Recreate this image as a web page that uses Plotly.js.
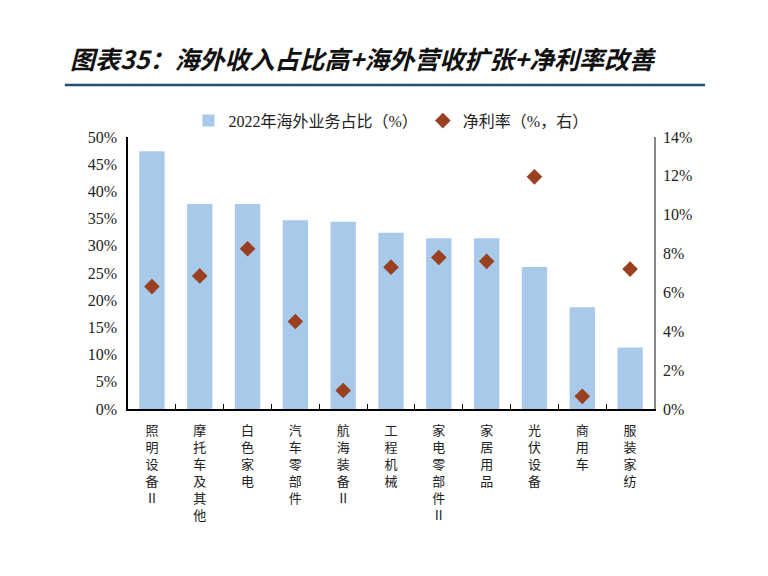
<!DOCTYPE html>
<html>
<head>
<meta charset="utf-8">
<script src="https://cdn.plot.ly/plotly-3.0.1.min.js"></script>
<style>
  body { margin: 0; background: #fff; }
  #plot { width: 768px; height: 576px; }
</style>
</head>
<body>
<div id="plot"></div>
<script>
  // categories (industries)
  var categories = ["照明设备Ⅱ", "摩托车及其他", "白色家电", "汽车零部件", "航海装备Ⅱ",
    "工程机械", "家电零部件Ⅱ", "家居用品", "光伏设备", "商用车", "服装家纺"];
  // 2022 overseas revenue share (%)
  var overseasShare = [47.4, 37.7, 37.7, 34.7, 34.4, 32.4, 31.4, 31.4, 26.1, 18.7, 11.3];
  // net margin (%, right axis)
  var netMargin = [6.3, 6.85, 8.25, 4.5, 0.95, 7.3, 7.8, 7.6, 11.95, 0.65, 7.2];

  // vertical labels: one character per line
  var tickLabels = categories.map(c => Array.from(c).join("<br>"));

  var trace1 = {
    x: categories,
    y: overseasShare,
    name: "2022年海外业务占比（%）",
    type: "bar",
    width: 0.53,
    marker: { color: "#a8c9ea" },
    hoverinfo: "x+y"
  };

  var trace2 = {
    x: categories,
    y: netMargin,
    name: "净利率（%，右）",
    type: "scatter",
    mode: "markers",
    yaxis: "y2",
    marker: { symbol: "diamond", size: 12, color: "#98401f", line: { width: 0 } }
  };

  var data = [trace1, trace2];

  // latin glyphs in serif, CJK falls back to Noto Sans CJK
  var font = "Liberation Serif, Noto Sans CJK SC, serif";

  var layout = {
    width: 768,
    height: 576,
    paper_bgcolor: "#fff",
    plot_bgcolor: "#fff",
    showlegend: true,
    font: { family: font, size: 14, color: "#222" },
    title: {
      text: "<b><i>图表35：海外收入占比高+海外营收扩张+净利率改善</i></b>",
      font: { family: "Noto Sans CJK SC", size: 25, color: "#111" },
      x: 70 / 768,
      xanchor: "left",
      xref: "container",
      y: 1 - 60 / 576,
      yref: "container",
      yanchor: "middle"
    },
    legend: {
      orientation: "h",
      x: 0.5,
      xanchor: "center",
      y: 1.06,
      yanchor: "middle",
      font: { family: font, size: 16, color: "#222" },
      itemwidth: 30
    },
    bargap: 0.47,
    xaxis: {
      type: "category",
      range: [-0.5, categories.length - 0.5],
      tickmode: "array",
      tickvals: categories,
      ticktext: tickLabels,
      tickangle: 0,
      tickson: "boundaries",
      ticks: "inside",
      ticklen: 5,
      tickcolor: "#000",
      ticklabelstandoff: 9,
      showline: true,
      linecolor: "#000",
      linewidth: 1.5,
      showgrid: false,
      zeroline: false,
      tickfont: { family: font, size: 13, color: "#222" }
    },
    yaxis: {
      range: [0, 50],
      dtick: 5,
      ticksuffix: "%",
      showline: true,
      linecolor: "#000",
      linewidth: 1.5,
      ticks: "",
      ticklabelstandoff: 6,
      showgrid: false,
      zeroline: false,
      tickfont: { family: font, size: 16, color: "#222" }
    },
    yaxis2: {
      overlaying: "y",
      side: "right",
      range: [0, 14],
      dtick: 2,
      ticksuffix: "%",
      showline: true,
      linecolor: "#888",
      linewidth: 1.5,
      ticks: "",
      ticklabelstandoff: 4,
      showgrid: false,
      zeroline: false,
      tickfont: { family: font, size: 16, color: "#222" }
    },
    shapes: [{
      type: "line",
      xref: "paper",
      yref: "paper",
      x0: -0.12,
      x1: 1.097,
      y0: 1.191,
      y1: 1.191,
      line: { color: "#1f4e6e", width: 2.5 }
    }],
    margin: { l: 128, r: 114, t: 137, b: 167 }
  };

  Plotly.newPlot("plot", data, layout, { displayModeBar: false });
</script>
</body>
</html>
